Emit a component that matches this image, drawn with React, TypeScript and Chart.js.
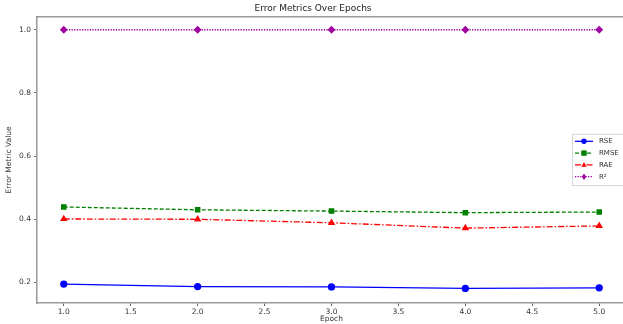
import React, { useEffect, useRef } from "react";
import { Chart, registerables } from "chart.js";

Chart.register(...registerables);

const epochs = [1, 2, 3, 4, 5];
const rse = [0.195, 0.187, 0.186, 0.181, 0.183];
const rmse = [0.439, 0.43, 0.426, 0.421, 0.423];
const rae = [0.401, 0.4, 0.389, 0.372, 0.379];
const r2 = [1.0, 1.0, 1.0, 1.0, 1.0];
const xTicks = [1.0, 1.5, 2.0, 2.5, 3.0, 3.5, 4.0, 4.5, 5.0];
const yTicks = [0.2, 0.4, 0.6, 0.8, 1.0];
const seriesNames = ["RSE", "RMSE", "RAE", "R²"];

const FONT = "'DejaVu Sans', sans-serif";

function drawMarker(ctx: CanvasRenderingContext2D, style: string, x: number, y: number, r: number) {
  ctx.beginPath();
  if (style === "circle") {
    ctx.arc(x, y, r, 0, Math.PI * 2);
  } else if (style === "rect") {
    ctx.rect(x - r, y - r, 2 * r, 2 * r);
  } else if (style === "triangle") {
    ctx.moveTo(x, y - r * 1.1);
    ctx.lineTo(x + r, y + r * 0.7);
    ctx.lineTo(x - r, y + r * 0.7);
    ctx.closePath();
  } else {
    ctx.moveTo(x, y - r * 1.2);
    ctx.lineTo(x + r * 0.8, y);
    ctx.lineTo(x, y + r * 1.2);
    ctx.lineTo(x - r * 0.8, y);
    ctx.closePath();
  }
  ctx.fill();
}

const framePlugin = {
  id: "frame",
  beforeDatasetsDraw(chart: any) {
    const { ctx, chartArea } = chart;
    ctx.save();
    ctx.strokeStyle = "#999";
    ctx.lineWidth = 1.5;
    ctx.beginPath();
    ctx.moveTo(chartArea.left, chartArea.top);
    ctx.lineTo(chartArea.right, chartArea.top);
    ctx.lineTo(chartArea.right, chartArea.bottom);
    ctx.stroke();
    ctx.restore();
  },
};

const legendPlugin = {
  id: "mplLegend",
  afterDraw(chart: any) {
    const { ctx, chartArea } = chart;
    const left = chartArea.right - 54;
    const top = chartArea.top + 117;
    const rowH = 11.8;
    const h = rowH * 4 + 4;
    ctx.save();
    ctx.fillStyle = "rgba(255,255,255,0.85)";
    ctx.strokeStyle = "#d6d6d6";
    ctx.lineWidth = 1;
    ctx.beginPath();
    ctx.rect(left + 0.5, top + 0.5, 60, h);
    ctx.fill();
    ctx.stroke();
    chart.data.datasets.forEach((ds: any, i: number) => {
      const y = top + 7.5 + i * rowH;
      ctx.strokeStyle = ds.borderColor;
      ctx.lineWidth = ds.borderWidth;
      ctx.setLineDash(ds.borderDash || []);
      ctx.beginPath();
      ctx.moveTo(left + 3, y);
      ctx.lineTo(left + 21, y);
      ctx.stroke();
      ctx.setLineDash([]);
      ctx.fillStyle = ds.pointBackgroundColor;
      drawMarker(ctx, ds.pointStyle, left + 12, y, ds.pointRadius * 0.9);
      ctx.fillStyle = "#333";
      ctx.font = `7px ${FONT}`;
      ctx.textBaseline = "middle";
      ctx.textAlign = "left";
      ctx.fillText(ds.label, left + 27, y);
    });
    ctx.restore();
  },
};

export default function App() {
  const ref = useRef<HTMLCanvasElement>(null);
  useEffect(() => {
    if (!ref.current) return;
    const mk = (label: string, data: number[], color: string, style: string, dash: number[], radius: number) => ({
      label,
      data: epochs.map((e, i) => ({ x: e, y: data[i] })),
      borderColor: color,
      backgroundColor: color,
      pointBackgroundColor: color,
      pointBorderColor: color,
      pointStyle: style,
      pointRadius: radius,
      borderWidth: 1.3,
      borderDash: dash,
      fill: false,
      tension: 0,
    });
    const chart = new Chart(ref.current, {
      type: "line",
      data: {
        datasets: [
          mk(seriesNames[0], rse, "#0000ff", "circle", [], 3),
          mk(seriesNames[1], rmse, "#008000", "rect", [4, 2], 3),
          mk(seriesNames[2], rae, "#ff0000", "triangle", [6, 2, 1.5, 2], 3),
          mk(seriesNames[3], r2, "#a000a0", "rectRot", [1.3, 1.3], 3),
        ],
      },
      options: {
        responsive: false,
        animation: false,
        layout: { padding: { left: 0, right: 6, top: 0, bottom: 0 } },
        plugins: {
          legend: { display: false },
          tooltip: { enabled: false },
          title: {
            display: true,
            text: "Error Metrics Over Epochs",
            color: "#222",
            font: { family: FONT, size: 9, weight: "normal" },
            padding: { top: 3, bottom: 3 },
          },
        },
        scales: {
          x: {
            type: "linear",
            min: 0.8,
            max: 5.2,
            afterBuildTicks: (s: any) => {
              s.ticks = xTicks.map((v) => ({ value: v }));
            },
            afterFit: (s: any) => {
              s.height = 21;
            },
            ticks: {
              color: "#333",
              font: { family: FONT, size: 7.5 },
              padding: 2,
              maxRotation: 0,
              autoSkip: false,
              callback: (v: any) => Number(v).toFixed(1),
            },
            grid: { drawOnChartArea: false, drawTicks: true, tickLength: 3, color: "#666" },
            border: { display: true, color: "#999", width: 1.5 },
            title: {
              display: true,
              text: "Epoch",
              color: "#333",
              font: { family: FONT, size: 7.5 },
              padding: { top: 0, bottom: 0 },
            },
          },
          y: {
            type: "linear",
            min: 0.135,
            max: 1.041,
            afterBuildTicks: (s: any) => {
              s.ticks = yTicks.map((v) => ({ value: v }));
            },
            afterFit: (s: any) => {
              s.width = 37;
            },
            ticks: {
              color: "#333",
              font: { family: FONT, size: 7.5 },
              padding: 3,
              callback: (v: any) => Number(v).toFixed(1),
            },
            grid: { drawOnChartArea: false, drawTicks: true, tickLength: 3, color: "#666" },
            border: { display: true, color: "#999", width: 1.5 },
            title: {
              display: true,
              text: "Error Metric Value",
              color: "#333",
              font: { family: FONT, size: 7.5 },
              padding: { top: 5, bottom: 0 },
            },
          },
        },
      },
      plugins: [framePlugin, legendPlugin],
    } as any);
    return () => chart.destroy();
  }, []);
  return (
    <div style={{ position: "fixed", left: 0, top: 0, width: 623, height: 324, overflow: "hidden", background: "#fff" }}>
      <canvas ref={ref} width={632} height={324} style={{ width: 632, height: 324, display: "block" }} />
    </div>
  );
}
